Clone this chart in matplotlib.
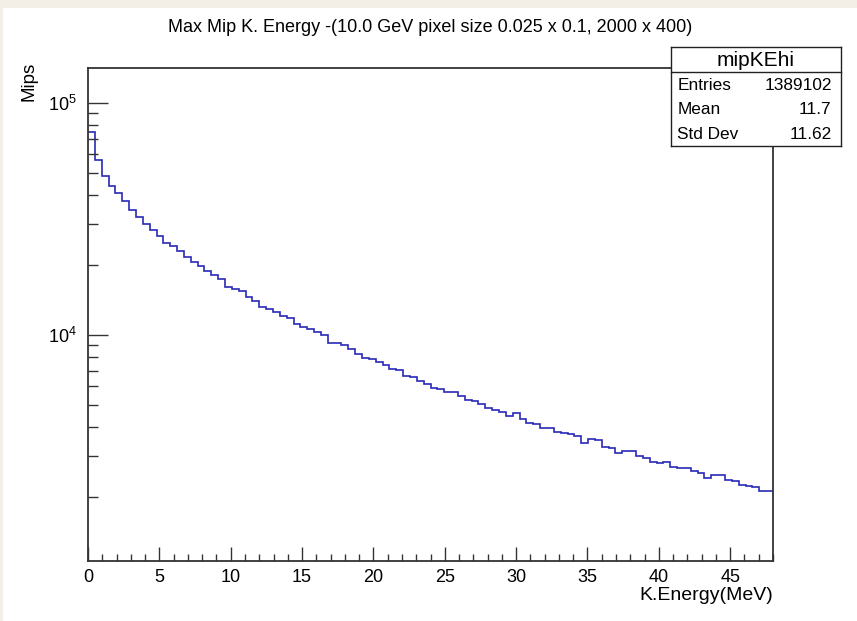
import numpy as np
import matplotlib
matplotlib.use("Agg")
import matplotlib.pyplot as plt
from matplotlib.ticker import MultipleLocator, LogLocator, NullFormatter, LogFormatterSciNotation
from matplotlib.patches import Rectangle
from matplotlib.lines import Line2D

plt.rcParams['font.family'] = ['Liberation Sans', 'DejaVu Sans']
plt.rcParams['mathtext.fontset'] = 'custom'
plt.rcParams['mathtext.rm'] = 'Liberation Sans'
plt.rcParams['mathtext.it'] = 'Liberation Sans:italic'

# Histogram definition: 100 bins over 0-48 MeV
n_bins = 100
x_min, x_max = 0.0, 48.0

# Bin contents (maximum MIP kinetic energy)
counts = [
    75000, 56500, 48200, 43600, 40850, 37570, 34600, 32050, 30010, 28270,
    26530, 24850, 24030, 22860, 21620, 20570, 19690, 18860, 18130, 17370,
    16040, 15820, 15360, 14610, 14040, 13220, 12920, 12580, 12050, 11780,
    11140, 10840, 10600, 10310, 9980, 9190, 9220, 9030, 8660, 8250,
    7915, 7840, 7650, 7405, 7100, 7045, 6660, 6590, 6315, 6130,
    5910, 5835, 5680, 5645, 5440, 5230, 5175, 5010, 4815, 4735,
    4655, 4470, 4580, 4315, 4170, 4105, 3976, 3960, 3792, 3785,
    3729, 3645, 3426, 3572, 3512, 3285, 3253, 3101, 3148, 3145,
    3010, 2951, 2821, 2794, 2841, 2698, 2658, 2655, 2585, 2542,
    2423, 2499, 2495, 2378, 2350, 2245, 2240, 2212, 2115, 2118,
]

hist_name = "mipKEhi"
stat_labels = ["Entries", "Mean", "Std Dev"]
stat_values = ["1389102", "11.7", "11.62"]

title = "Max Mip K. Energy -(10.0 GeV pixel size 0.025 x 0.1, 2000 x 400)"
x_title = "K.Energy(MeV)"
y_title = "Mips"

W, H = 857, 621
fig = plt.figure(figsize=(W / 100, H / 100), dpi=100)
fig.patch.set_facecolor("white")

def fx(px):
    return px / W

def fy(py):
    return 1 - py / H

# Light backdrop strip around the canvas edge
fig.add_artist(Rectangle((0, fy(8)), 1, 8 / H, transform=fig.transFigure,
                         facecolor="#f4efe6", edgecolor="none", zorder=0))
fig.add_artist(Rectangle((0, 0), 3 / W, 1, transform=fig.transFigure,
                         facecolor="#f4efe6", edgecolor="none", zorder=0))

ax_l, ax_r, ax_t, ax_b = 88, 773, 68.3, 560.5
ax = fig.add_axes([fx(ax_l), fy(ax_b), (ax_r - ax_l) / W, (ax_b - ax_t) / H])

edges = np.linspace(x_min, x_max, n_bins + 1)
ax.stairs(counts, edges, baseline=None, color="#2a2ab8", linewidth=1.2)

ax.set_yscale("log")
ax.set_xlim(x_min, x_max)
ax.set_ylim(1065, 140600)

for s in ax.spines.values():
    s.set_color("#333333")
    s.set_linewidth(1.3)

ax.xaxis.set_major_locator(MultipleLocator(5))
ax.xaxis.set_minor_locator(MultipleLocator(1))
ax.yaxis.set_major_locator(LogLocator(base=10, numticks=10))
ax.yaxis.set_minor_locator(LogLocator(base=10, subs=np.arange(2, 10), numticks=20))
ax.yaxis.set_major_formatter(LogFormatterSciNotation())
ax.yaxis.set_minor_formatter(NullFormatter())

ax.tick_params(axis="x", which="major", direction="in", length=10, width=1,
               color="#333333", labelsize=13, pad=6, top=False)
ax.tick_params(axis="x", which="minor", direction="in", length=5, width=1,
               color="#333333", top=False)
ax.tick_params(axis="y", which="major", direction="in", length=14.5, width=1,
               color="#333333", labelsize=13, pad=8, right=False)
ax.tick_params(axis="y", which="minor", direction="in", length=7.5, width=1,
               color="#333333", right=False)

fig.text(fx(430), fy(28), title, ha="center", va="center", fontsize=13)
fig.text(fx(773), fy(595), x_title, ha="right", va="center", fontsize=14)
fig.text(fx(29), fy(62), y_title, rotation=90, ha="center", va="top", fontsize=13.5)

# Statistics box
b_l, b_r, b_t, b_b = 670.7, 841, 47.3, 146.3
box = fig.add_axes([fx(b_l), fy(b_b), (b_r - b_l) / W, (b_b - b_t) / H], zorder=5)
box.set_xticks([])
box.set_yticks([])
box.set_facecolor("white")
for s in box.spines.values():
    s.set_color("#222222")
    s.set_linewidth(1.0)
fig.add_artist(Line2D([fx(b_l), fx(b_r)], [fy(72.3), fy(72.3)],
                      transform=fig.transFigure, color="#222222", lw=1.0, zorder=6))
fig.text(fx((b_l + b_r) / 2), fy(60), hist_name, ha="center", va="center",
         fontsize=15, zorder=7)
row_y = [85, 110, 134.3]
for lab, val, yy in zip(stat_labels, stat_values, row_y):
    fig.text(fx(677.3), fy(yy), lab, ha="left", va="center", fontsize=12.4, zorder=7)
    fig.text(fx(831.7), fy(yy), val, ha="right", va="center", fontsize=12.4, zorder=7)

fig.savefig("out.png", dpi=100)
